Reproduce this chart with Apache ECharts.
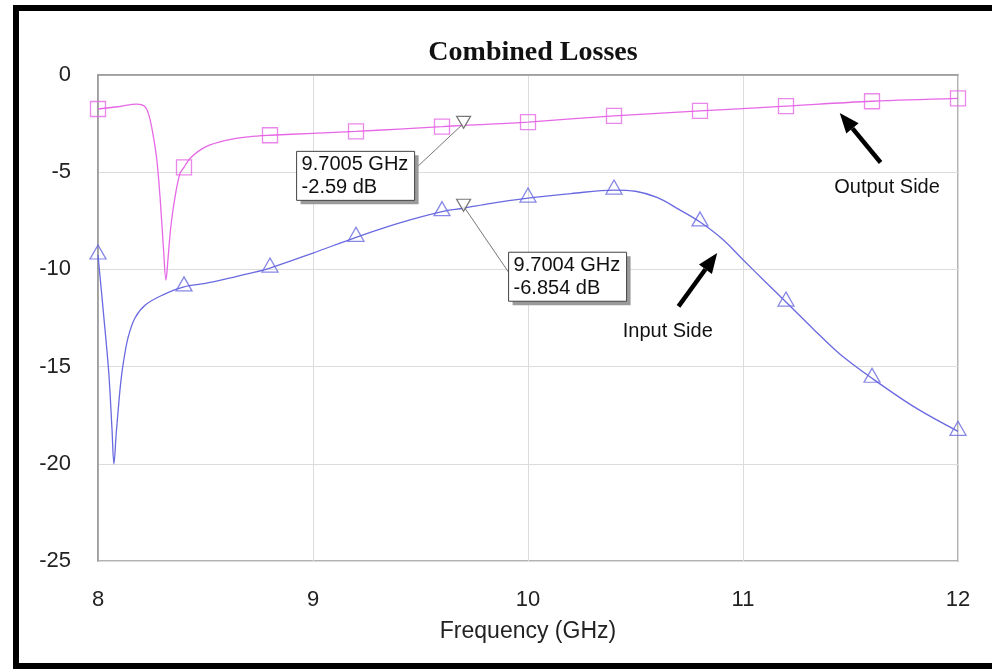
<!DOCTYPE html>
<html>
<head>
<meta charset="utf-8">
<script src="https://cdn.jsdelivr.net/npm/echarts@6/dist/echarts.min.js"></script>
<style>
  html, body { margin: 0; padding: 0; background: #ffffff; }
  #ec { width: 992px; height: 669px; }
</style>
</head>
<body>
<div id="ec"></div>
<script>
// Output Side trace (magenta, squares)
const outFreq = [8.0, 8.1, 8.18, 8.215, 8.235, 8.255, 8.274, 8.29, 8.305, 8.316, 8.326, 8.337, 8.352, 8.38, 8.4, 8.43, 8.5, 8.6, 8.7, 8.8, 9.0, 9.2, 9.4, 9.6, 9.7, 10.0, 10.4, 10.8, 11.2, 11.6, 12.0];
const outLoss = [-1.75, -1.62, -1.5, -1.6, -2.0, -3.0, -4.4, -6.5, -9.0, -10.55, -9.4, -8.0, -6.7, -5.1, -4.75, -4.27, -3.7, -3.35, -3.18, -3.1, -3.0, -2.9, -2.78, -2.66, -2.59, -2.42, -2.1, -1.85, -1.6, -1.35, -1.2];
const outMarkF = [8.0, 8.4, 8.8, 9.2, 9.6, 10.0, 10.4, 10.8, 11.2, 11.6, 12.0];
const outMarkV = [-1.75, -4.75, -3.1, -2.9, -2.66, -2.42, -2.1, -1.85, -1.6, -1.35, -1.2];

// Input Side trace (blue, triangles)
const inFreq = [8.0, 8.025, 8.05, 8.065, 8.074, 8.085, 8.095, 8.105, 8.118, 8.14, 8.172, 8.22, 8.3, 8.4, 8.5, 8.6, 8.7, 8.8, 9.0, 9.2, 9.4, 9.6, 9.7, 9.8, 10.0, 10.2, 10.4, 10.5, 10.6, 10.7, 10.8, 10.9, 11.0, 11.1, 11.2, 11.33, 11.45, 11.6, 11.8, 12.0];
const inLoss = [-9.26, -12.2, -15.3, -18.2, -20.0, -18.4, -17.1, -15.9, -14.8, -13.5, -12.5, -11.83, -11.32, -10.9, -10.72, -10.48, -10.22, -9.93, -9.16, -8.35, -7.62, -7.03, -6.854, -6.65, -6.33, -6.1, -5.92, -5.98, -6.3, -6.9, -7.56, -8.4, -9.5, -10.6, -11.68, -13.1, -14.35, -15.6, -17.1, -18.33];
const inMarkF = [8.0, 8.4, 8.8, 9.2, 9.6, 10.0, 10.4, 10.8, 11.2, 11.6, 12.0];
const inMarkV = [-9.26, -10.9, -9.93, -8.35, -7.03, -6.33, -5.92, -7.56, -11.68, -15.6, -18.33];

// data markers read out on the plot
const markerF = [9.7005, 9.7004];
const markerV = [-2.59, -6.854];
const markerText = [["9.7005 GHz", "-2.59 dB"], ["9.7004 GHz", "-6.854 dB"]];

const xTicks = [8, 9, 10, 11, 12];
const yTicks = [0, -5, -10, -15, -20, -25];

const PINK = "#e668e6";
const BLUE = "#6a6ae0";
const FONT = "Liberation Sans, Arial, sans-serif";

const zip = (a, b) => a.map((v, i) => [v, b[i]]);

let chart = echarts.init(document.getElementById("ec"));
chart.setOption({
  animation: false,
  backgroundColor: "#ffffff",
  title: {
    text: "Combined Losses",
    left: 528,
    textAlign: "center",
    top: 34,
    textStyle: { fontFamily: "Liberation Serif, Times New Roman, serif", fontWeight: "bold", fontSize: 28, color: "#111" },
  },
  grid: { left: 98, right: 34, top: 75, bottom: 108, show: true, borderColor: "#999", borderWidth: 1.5 },
  xAxis: {
    type: "value",
    min: xTicks[0],
    max: xTicks[xTicks.length - 1],
    interval: 1,
    name: "Frequency (GHz)",
    nameLocation: "middle",
    nameGap: 59,
    nameTextStyle: { fontFamily: FONT, fontSize: 23, color: "#222" },
    axisLine: { lineStyle: { color: "#999", width: 1.5 } },
    axisTick: { show: false },
    axisLabel: { fontFamily: FONT, fontSize: 22, color: "#222", margin: 28 },
    splitLine: { lineStyle: { color: "#dcdcdc", width: 1 } },
  },
  yAxis: {
    type: "value",
    min: yTicks[yTicks.length - 1],
    max: yTicks[0],
    interval: 5,
    axisLine: { show: true, lineStyle: { color: "#999", width: 1.5 } },
    axisTick: { show: false },
    axisLabel: { fontFamily: FONT, fontSize: 22, color: "#222", margin: 27 },
    splitLine: { lineStyle: { color: "#dcdcdc", width: 1 } },
  },
  series: [
    {
      name: "Output Side",
      type: "line",
      data: zip(outFreq, outLoss),
      smooth: 0.35,
      showSymbol: false,
      lineStyle: { color: PINK, width: 1.3 },
      z: 3,
    },
    {
      name: "Output Side markers",
      type: "scatter",
      data: zip(outMarkF, outMarkV),
      symbol: "rect",
      symbolSize: 15,
      itemStyle: { color: "rgba(0,0,0,0)", borderColor: PINK, borderWidth: 1.3 },
      z: 4,
    },
    {
      name: "Input Side",
      type: "line",
      data: zip(inFreq, inLoss),
      smooth: 0.35,
      showSymbol: false,
      lineStyle: { color: BLUE, width: 1.3 },
      z: 3,
    },
    {
      name: "Input Side markers",
      type: "scatter",
      data: zip(inMarkF, inMarkV),
      symbol: "triangle",
      symbolSize: [16, 14],
      symbolOffset: [0, -3],
      itemStyle: { color: "rgba(0,0,0,0)", borderColor: BLUE, borderWidth: 1.3 },
      z: 4,
    },
    {
      name: "Markers",
      type: "scatter",
      data: zip(markerF, markerV),
      symbol: "path://M0,0 L10,0 L5,9 Z",
      symbolSize: [14, 12],
      symbolOffset: [0, -3],
      itemStyle: { color: "#ffffff", borderColor: "#555", borderWidth: 1.2 },
      z: 6,
    },
  ],
});

// annotations placed relative to the data positions
function px(f, v) {
  return chart.convertToPixel({ gridIndex: 0 }, [f, v]);
}

function callout(i, dx, dy, anchor) {
  const p = px(markerF[i], markerV[i]);
  const x = p[0] + dx, y = p[1] + dy, w = 118, h = 49;
  const a = anchor === "right" ? [x + w, y + 18] : [x, y + 20];
  return [
    { type: "line", shape: { x1: a[0], y1: a[1], x2: p[0], y2: p[1] - 2 }, style: { stroke: "#777", lineWidth: 1 }, z: 5 },
    { type: "rect", shape: { x: x + 4, y: y + 4, width: w, height: h }, style: { fill: "#9a9a9a" }, z: 6 },
    { type: "rect", shape: { x: x, y: y, width: w, height: h }, style: { fill: "#ffffff", stroke: "#444", lineWidth: 1 }, z: 7 },
    {
      type: "text", x: x + 5, y: y + 2, z: 8,
      style: { text: markerText[i].join("\n"), font: "20px " + FONT, fill: "#111", lineHeight: 23 },
    },
  ];
}

function arrow(tail, tip, label, lx, ly) {
  const t = px(tail[0], tail[1]), h = px(tip[0], tip[1]);
  const dx = h[0] - t[0], dy = h[1] - t[1];
  const len = Math.sqrt(dx * dx + dy * dy);
  const ux = dx / len, uy = dy / len;
  const hl = 20, hw = 8;
  const bx = h[0] - ux * hl, by = h[1] - uy * hl;
  const lp = px(lx, ly);
  return [
    { type: "line", shape: { x1: t[0], y1: t[1], x2: bx, y2: by }, style: { stroke: "#000", lineWidth: 4.5 }, z: 9 },
    {
      type: "polygon", z: 9,
      shape: { points: [[h[0], h[1]], [bx - uy * hw, by + ux * hw], [bx + uy * hw, by - ux * hw]] },
      style: { fill: "#000" },
    },
    {
      type: "text", x: lp[0], y: lp[1], z: 9,
      style: { text: label, font: "20px " + FONT, fill: "#111", align: "center", verticalAlign: "middle" },
    },
  ];
}

const g = [].concat(
  callout(0, -167, 26, "right"),
  callout(1, 45, 44, "left"),
  arrow([11.64, -4.5], [11.45, -1.95], "Output Side", 11.67, -5.8),
  arrow([10.70, -11.9], [10.88, -9.16], "Input Side", 10.65, -13.2),
  [{ type: "rect", shape: { x: 16, y: 8, width: 990, height: 658 }, style: { fill: "none", stroke: "#000", lineWidth: 6 }, z: 20 }]
);
chart.setOption({ graphic: g });
</script>
</body>
</html>
